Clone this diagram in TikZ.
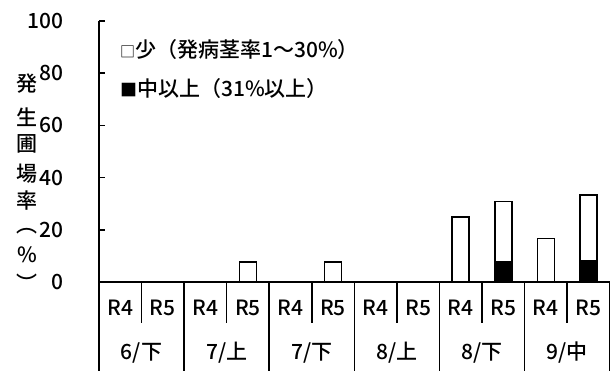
\documentclass[tikz,border=0pt]{standalone}
\usepackage{fontspec}
\setmainfont{Noto Sans CJK JP}[UprightFont={* Medium}]
\begin{document}
\begin{tikzpicture}[x=1pt,y=-1pt,line width=1.6pt,font=\fontsize{21}{25}\selectfont]
            \useasboundingbox (0,0) rectangle (614,371);
            % bars, 12 columns (R4,R5 per period), white = 少
            \foreach \i/\v in {3/7.7,5/7.7,8/25,9/30.8,10/16.7,11/33.3}
            \filldraw[fill=white, draw=black] ({120.3+42.55*\i-8.5},282) rectangle ({120.3+42.55*\i+8.5},{282-2.61*\v});
            % black part = 中以上
            \foreach \i/\v in {9/7.7,11/8.3}
            \filldraw[fill=black, draw=black] ({120.3+42.55*\i-8.5},282) rectangle ({120.3+42.55*\i+8.5},{282-2.61*\v});
            % y axis with ticks and numbers
            \draw (99,21) -- (99,371);
            \foreach \v in {20,40,60,80,100}
            \draw (99,{282-2.61*\v}) -- (105,{282-2.61*\v});
            \foreach \v in {0,20,40,60,80,100}
            \node[anchor=east] (tick\v) at (68,{282-2.61*\v}) {\v};
            % x axis and the table below it
            \draw (99,282) -- (609.6,282) -- (609.6,371);
            \foreach \k in {1,...,5}
            \draw ({99+85.1*\k},282) -- ({99+85.1*\k},371);
            \foreach \k in {0,...,5}
            \draw ({141.55+85.1*\k},282) -- ({141.55+85.1*\k},323);
            % year labels
            \foreach \k in {0,...,5} {
            \node (rfour\k) at ({120.3+85.1*\k},308) {R4};
            \node (rfive\k) at ({162.85+85.1*\k},308) {R5};
            }
            % period labels
            \foreach \m/\h [count=\k from 0] in {6/下,7/上,7/下,8/上,8/下,9/中}
            \node (per\k) at ({141.55+85.1*\k},353) {\m/\h};
            % legend (small box marks)
            \node[anchor=west] (leg1) at (116,50) {{\fontsize{15}{14}\selectfont □}少（発病茎率1～30\%）};
            \node[anchor=west] (leg2) at (116,89) {{\fontsize{17}{14}\selectfont ■}中以上（31\%以上）};
            % y axis title, one character per line
            \foreach \ch/\yy [count=\n] in {発/84,生/117,圃/144,場/174,率/201,︵/231,\%/255}
            \node (ylab\n) at (27,\yy) {\ch};
            \node (ylab8) at (27,283) {︶};
\end{tikzpicture}
\end{document}
